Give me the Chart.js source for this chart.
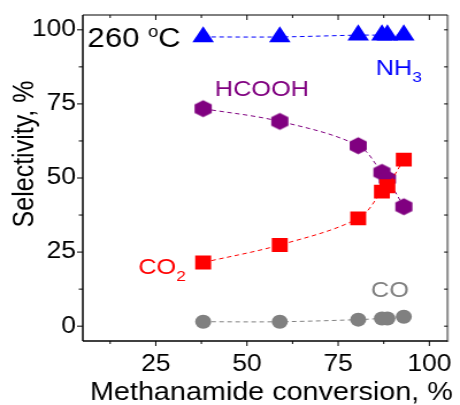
<!DOCTYPE html>
<html>
<head>
<meta charset="utf-8">
<script src="https://cdn.jsdelivr.net/npm/chart.js@4"></script>
<style>
    html, body { margin: 0; padding: 0; background: #fff; }
    #selChart { display: block; }
</style>
</head>
<body>
<!-- the original figure is a little wider than its fonts: draw at 400px, show at 460px -->
<canvas id="selChart" width="400" height="405" style="width:460px;height:405px"></canvas>
<script>
/* ===== data ===== */
const conversion = [38, 59, 80.5, 87, 88.5, 93];
const nh3   = [97.6, 97.6, 98.2, 98.2, 98.2, 98.2];
const hcooh = [73.4, 69.1, 60.9, 51.9, 49.7, 40.3];
const co2   = [21.5, 27.4, 36.4, 45.4, 47.2, 56.2];
const co    = [1.5, 1.5, 2.2, 2.6, 2.6, 3.2];

const xTicks  = [12.5, 25, 37.5, 50, 62.5, 75, 87.5, 100];
const yTicks  = [0, 12.5, 25, 37.5, 50, 62.5, 75, 87.5, 100];
const xLabels = [25, 50, 75, 100];
const yLabels = [0, 25, 50, 75, 100];

const FONT = '"Liberation Sans", Arial, sans-serif';

/* ===== hexagon marker (Chart.js has none) ===== */
function makeHexagon(r, color){
    const c = document.createElement("canvas");
    const w = Math.ceil(Math.sqrt(3) * r) + 2;
    const h = Math.ceil(2 * r) + 2;
    c.width = w;
    c.height = h;
    const g = c.getContext("2d");
    g.fillStyle = color;
    g.beginPath();
    for(let i = 0; i < 6; i++){
        const a = Math.PI / 180 * (60 * i - 90);
        const px = w / 2 + r * Math.cos(a);
        const py = h / 2 + r * Math.sin(a);
        if(i === 0) g.moveTo(px, py); else g.lineTo(px, py);
    }
    g.closePath();
    g.fill();
    return c;
}

function series(values, color, style, radius){
    return {
        data: conversion.map((x, i) => ({ x: x, y: values[i] })),
        borderColor: color,
        backgroundColor: color,
        borderWidth: 1,
        borderDash: [4, 3],
        tension: 0.35,
        pointStyle: style,
        pointRadius: radius,
        pointBorderWidth: 0,
        pointBackgroundColor: color
    };
}

/* ===== text with sub/superscripts ===== */
function drawParts(ctx, parts, x, y){
    let cx = x;
    parts.forEach(p => {
        ctx.font = `${p.size}px ${FONT}`;
        ctx.fillText(p.t, cx, y + (p.dy || 0));
        cx += ctx.measureText(p.t).width;
    });
}

/* ===== frame, mirror ticks, titles and labels ===== */
const framePlugin = {
    id: "frame",
    afterDraw(chart){
        const { ctx, chartArea, scales } = chart;
        const { left, right, top, bottom } = chartArea;
        const x = scales.x, y = scales.y;

        const line = (x1, y1, x2, y2) => {
            ctx.beginPath();
            ctx.moveTo(x1, y1);
            ctx.lineTo(x2, y2);
            ctx.stroke();
        };

        ctx.save();
        // right border is grey in the original
        ctx.strokeStyle = "#8a8a8a";
        ctx.lineWidth = 2;
        line(right, top, right, bottom + 1);

        ctx.strokeStyle = "#000";
        ctx.lineWidth = 1;
        line(left, top, right, top);
        ctx.lineWidth = 1.5;
        line(left, top, left, bottom);
        line(left, bottom, right, bottom);

        ctx.lineWidth = 1;
        x.ticks.forEach(t => {
            const px = x.getPixelForValue(t.value);
            const major = xLabels.includes(t.value);
            line(px, bottom, px, bottom + (major ? 5 : 3));
            line(px, top, px, top + (major ? 5 : 3));
        });
        y.ticks.forEach(t => {
            const py = y.getPixelForValue(t.value);
            const major = yLabels.includes(t.value);
            line(left, py, left - (major ? 5 : 3.5), py);
            line(right, py, right - 3, py);
        });

        // axis titles
        ctx.fillStyle = "#000";
        ctx.textBaseline = "alphabetic";
        ctx.textAlign = "center";
        ctx.font = `25px ${FONT}`;
        ctx.fillText("Methanamide conversion, %", 236, 400);

        ctx.save();
        ctx.translate(29, 154);
        ctx.rotate(-Math.PI / 2);
        ctx.fillText("Selectivity, %", 0, 0);
        ctx.restore();

        // labels placed in data units
        ctx.textAlign = "left";
        const at = (vx, vy) => [x.getPixelForValue(vx), y.getPixelForValue(vy)];

        ctx.fillStyle = "#000";
        let p = at(6.3, 94.2);
        drawParts(ctx, [
            { t: "260 ", size: 27 },
            { t: "o", size: 16, dy: -10 },
            { t: "C", size: 27 }
        ], p[0], p[1]);

        ctx.fillStyle = "#800080";
        p = at(41.2, 77.6);
        drawParts(ctx, [{ t: "HCOOH", size: 22 }], p[0], p[1]);

        ctx.fillStyle = "#0000ff";
        p = at(85.3, 84.9);
        drawParts(ctx, [
            { t: "NH", size: 22 },
            { t: "3", size: 15, dy: 7 }
        ], p[0], p[1]);

        ctx.fillStyle = "#ff0000";
        p = at(20.2, 17.5);
        drawParts(ctx, [
            { t: "CO", size: 22 },
            { t: "2", size: 15, dy: 7 }
        ], p[0], p[1]);

        ctx.fillStyle = "#808080";
        p = at(84, 9.7);
        drawParts(ctx, [{ t: "CO", size: 22 }], p[0], p[1]);

        ctx.restore();
    }
};

/* ===== chart ===== */
const tickFont = { size: 23, family: FONT };

new Chart(document.getElementById("selChart"), {
    type: "line",
    data: {
        datasets: [
            series(co2,   "#ff0000", "rect",     9.8),
            series(hcooh, "#800080", makeHexagon(8.6, "#800080"), 9),
            series(nh3,   "#0000ff", "triangle", 10.8),
            series(co,    "#808080", "circle",   7)
        ]
    },
    options: {
        responsive: false,
        animation: false,
        events: [],
        layout: { padding: { top: 15, right: 5, left: 0, bottom: 0 } },
        plugins: {
            legend: { display: false },
            tooltip: { enabled: false }
        },
        scales: {
            x: {
                type: "linear",
                min: 5,
                max: 105,
                afterBuildTicks: s => { s.ticks = xTicks.map(v => ({ value: v })); },
                afterFit: s => {
                    s.height = 64;
                    s.paddingLeft = 0;
                    s.paddingRight = 0;
                },
                grid: { display: false, drawTicks: false },
                border: { display: false },
                ticks: {
                    autoSkip: false,
                    maxRotation: 0,
                    padding: 10,
                    color: "#000",
                    font: tickFont,
                    callback: v => xLabels.includes(v) ? String(v) : ""
                }
            },
            y: {
                type: "linear",
                min: -5,
                max: 105,
                afterBuildTicks: s => { s.ticks = yTicks.map(v => ({ value: v })); },
                afterFit: s => {
                    s.width = 72;
                    s.paddingTop = 0;
                    s.paddingBottom = 0;
                },
                grid: { display: false, drawTicks: false },
                border: { display: false },
                ticks: {
                    autoSkip: false,
                    padding: 6,
                    color: "#000",
                    font: tickFont,
                    callback: v => yLabels.includes(v) ? String(v) : ""
                }
            }
        }
    },
    plugins: [framePlugin]
});
</script>
</body>
</html>
